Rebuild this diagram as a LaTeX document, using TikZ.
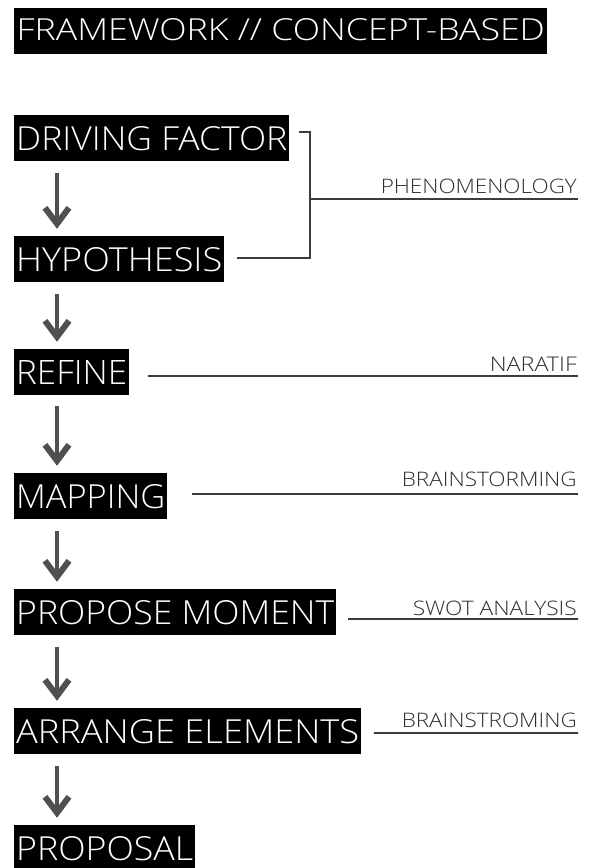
\documentclass[tikz,border=0pt]{standalone}
\usepackage{fontspec}
\setmainfont{Open Sans}[UprightFont=* Light]
\usepackage{graphicx}
\usetikzlibrary{arrows.meta,calc}
\definecolor{arrowgray}{HTML}{505050}
\definecolor{linegray}{HTML}{3C3C3C}
\definecolor{labelgray}{HTML}{2E2E2E}
\newcommand{\bigtxt}[2]{\resizebox{#1pt}{24pt}{#2}}
\newcommand{\smalltxt}[2]{\resizebox{#1pt}{14.5pt}{#2}}
\begin{document}
\begin{tikzpicture}[x=1pt,y=-1pt,
  stepbox/.style={fill=black,text=white,inner xsep=2pt,inner ysep=11pt,anchor=base west},
  titlebox/.style={fill=black,text=white,inner xsep=2.5pt,inner ysep=10pt,text depth=4pt,anchor=base west},
  sidelabel/.style={text=labelgray,inner sep=0pt,anchor=base east},
  flow/.style={draw=arrowgray,line width=4.5pt,shorten <=11pt,shorten >=7pt,
    -{Straight Barb[length=16pt,width=24pt,line width=6pt]}},
  side/.style={draw=linegray,line width=1.2pt}]
\fill[white] (0,0) rectangle (590,868);
\useasboundingbox (0,0) rectangle (590,868);

\node[titlebox] (title) at (14,40) {\resizebox{528pt}{22pt}{FRAMEWORK // CONCEPT-BASED}};

\node[stepbox] (df) at (14,150) {\bigtxt{271}{DRIVING FACTOR}};
\node[stepbox] (hy) at (14,271) {\bigtxt{206}{HYPOTHESIS}};
\node[stepbox] (re) at (14,384) {\bigtxt{111}{REFINE}};
\node[stepbox] (ma) at (14,508) {\bigtxt{149}{MAPPING}};
\node[stepbox] (pm) at (14,624) {\bigtxt{318}{PROPOSE MOMENT}};
\node[stepbox] (ae) at (14,743) {\bigtxt{343}{ARRANGE ELEMENTS}};
\node[stepbox] (pr) at (14,860) {\bigtxt{177}{PROPOSAL}};

\node[sidelabel] (phen) at (577,193) {\smalltxt{196}{PHENOMENOLOGY}};
\node[sidelabel] (nar) at (577,371) {\smalltxt{87}{NARATIF}};
\node[sidelabel] (brain) at (577,486) {\smalltxt{175}{BRAINSTORMING}};
\node[sidelabel] (swot) at (577,615) {\smalltxt{164}{SWOT ANALYSIS}};
\node[sidelabel] (brstr) at (577,727) {\smalltxt{175}{BRAINSTROMING}};

% arrows
\coordinate (ax) at (57,0);
\draw[flow] (df.south -| ax) -- (hy.north -| ax);
\draw[flow] (hy.south -| ax) -- (re.north -| ax);
\draw[flow] (re.south -| ax) -- (ma.north -| ax);
\draw[flow] (ma.south -| ax) -- (pm.north -| ax);
\draw[flow] (pm.south -| ax) -- (ae.north -| ax);
\draw[flow] (ae.south -| ax) -- (pr.north -| ax);

% bracket
\coordinate (dfe) at (299,132);
\coordinate (bt) at (310,132);
\coordinate (bm) at (310,199);
\coordinate (bb) at (310,258);
\coordinate (hye) at (237,258);
\draw[side] (dfe) -- (bt) -- (bb) -- (hye);
\draw[side] (bm) -- (bm -| phen.east) -- ++(1,0);

% side lines
\coordinate (reL) at (148,376);
\coordinate (maL) at (192,494);
\coordinate (pmL) at (348,619);
\coordinate (aeL) at (374,733);
\draw[side] (reL) -- ([xshift=1pt]reL -| nar.east);
\draw[side] (maL) -- ([xshift=1pt]maL -| brain.east);
\draw[side] (pmL) -- ([xshift=1pt]pmL -| swot.east);
\draw[side] (aeL) -- ([xshift=1pt]aeL -| brstr.east);
\end{tikzpicture}
\end{document}
